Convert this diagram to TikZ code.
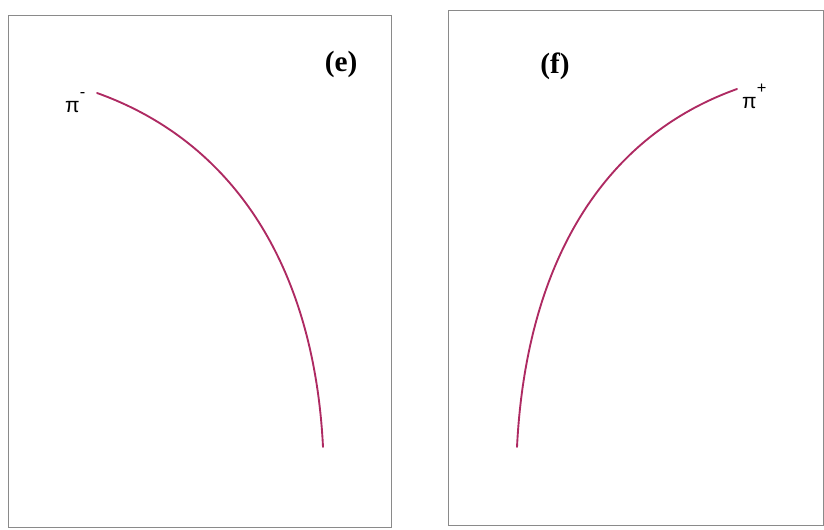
\documentclass[tikz,border=0pt]{standalone}
\usepackage{fontspec}
\setmainfont{Liberation Serif}
\newfontfamily\labelfont{Liberation Sans}
\definecolor{ctrack}{HTML}{AE2A62}
\definecolor{cframe}{HTML}{8A8A8A}
\tikzset{
  every picture/.style={x=0.03cm, y=-0.03cm},
  frame/.style={draw=cframe, line width=0.8pt},
  track/.style={draw=ctrack, line width=1.6pt, line cap=round},
  panel/.style={font=\fontsize{25}{30}\selectfont\bfseries, inner sep=0pt},
  particle/.style={font=\labelfont\fontsize{18}{21}\selectfont, inner sep=0pt, anchor=base west},
}
\newcommand{\chg}[1]{\raisebox{0.7em}{\fontsize{14}{15}\selectfont #1}}
\begin{document}
\begin{tikzpicture}
  \useasboundingbox (0,0) rectangle (824,529);
  % the two chamber frames
  \draw[frame] (8,15) rectangle (391,527);
  \draw[frame] (448,10) rectangle (823,525);
  \node[panel] (tage) at (341,64) {(e)};
  \node[panel] (tagf) at (555,66) {(f)};
  % negative pion bends right
  \coordinate (em0) at (97,93);
  \coordinate (em1) at (323,447);
  \draw[track] (em0) .. controls +(137,49) and +(-9,-180) .. (em1);
  \node[particle] (pim) at (65,112) {π\chg{-}};
  % positive pion bends left
  \coordinate (ep0) at (517,447);
  \coordinate (ep1) at (737,89);
  \draw[track] (ep0) .. controls +(9,-180) and +(-137,49) .. (ep1);
  \node[particle] (pip) at (742,108) {π\chg{+}};
\end{tikzpicture}
\end{document}
